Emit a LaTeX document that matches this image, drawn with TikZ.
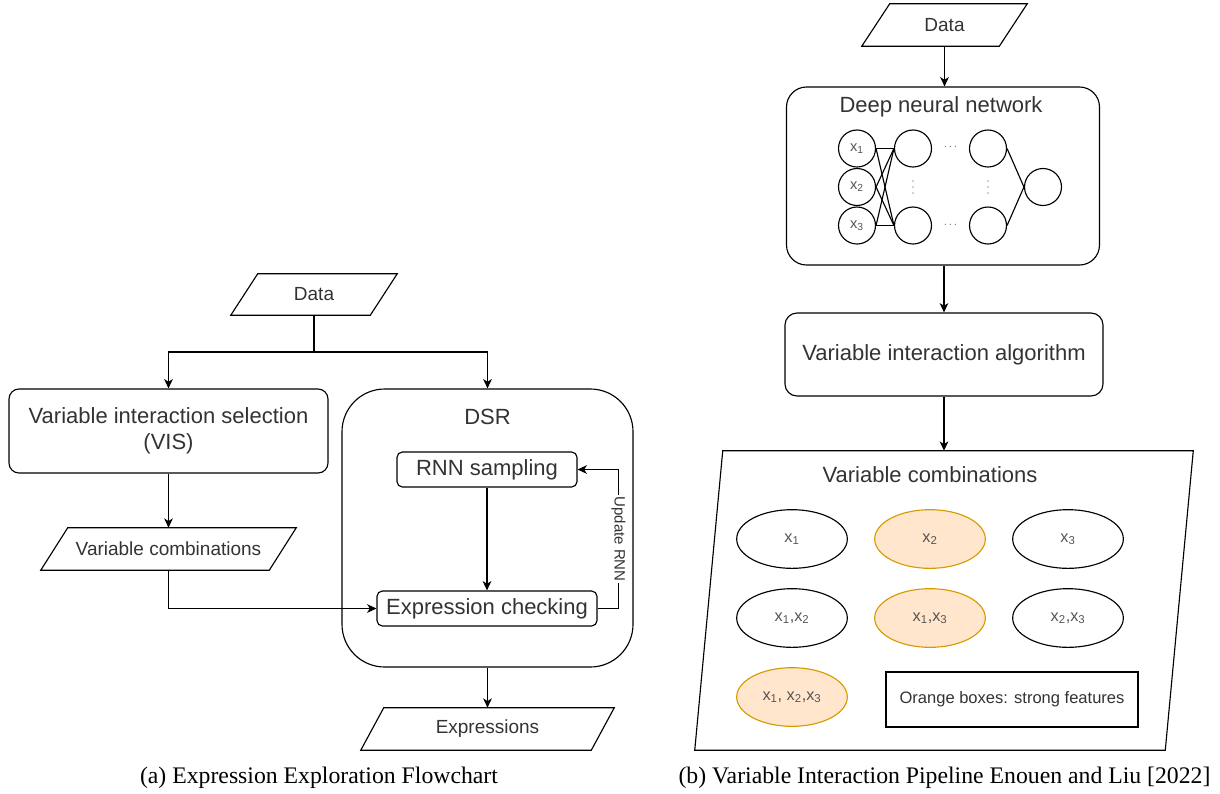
\documentclass[tikz,border=0pt]{standalone}
\usepackage{fontspec}
\setmainfont{Liberation Sans}
\newfontfamily\capfont{Liberation Serif}
\usetikzlibrary{arrows.meta,calc,shapes.geometric}
\definecolor{orfill}{HTML}{FFE6CC}
\definecolor{ordraw}{HTML}{D79B00}
\definecolor{txt}{HTML}{333333}
\definecolor{ltxt}{HTML}{555555}
\newcommand\parashape[2]{\draw[ln] ($(#1.north west)+(#2,0)$) -- (#1.north east) -- ($(#1.south east)+(-#2,0)$) -- (#1.south west) -- cycle;}
\tikzset{
  ln/.style={line width=0.85pt, draw=black},
  arr/.style={line width=0.85pt, draw=black, -{Stealth[length=7pt,width=6.5pt,inset=2pt]}},
  fbig/.style={font=\fontsize{16.5}{19.5}\selectfont},
  fmid/.style={font=\fontsize{14.25}{17}\selectfont},
  fsmall/.style={font=\fontsize{12.2}{14.5}\selectfont},
  box/.style={ln, rounded corners=#1, inner sep=0pt, text=txt, align=center},
  box/.default=7pt,
  parabox/.style={inner sep=0pt, text=txt, fmid},
  neuron/.style={ln, circle, minimum size=27.75pt, inner sep=0pt, text=ltxt, font=\fontsize{11}{12}\selectfont},
  comb/.style={ln, ellipse, minimum width=83pt, minimum height=44pt, inner sep=0pt, text=ltxt, fsmall},
  strong/.style={comb, draw=ordraw, fill=orfill},
  dots/.style={text=ltxt, inner sep=0pt, font=\fontsize{8}{9}\selectfont},
  vdot/.style={fill=ltxt},
  captext/.style={font=\capfont\fontsize{17.8}{21}\selectfont, text=black, inner sep=0pt, anchor=base},
}
\begin{document}
\begin{tikzpicture}[x=0.75pt,y=-0.75pt]
\useasboundingbox (0,0) rectangle (1220,793);

% ---------------- left panel ----------------
\node[parabox, minimum width=124.5pt, minimum height=30.75pt] (dataL) at (314,294.5) {Data};
\parashape{dataL}{27}
\node[box=7.5pt, fbig, minimum width=239.25pt, minimum height=63pt] (vis) at (168.5,431) {Variable interaction selection\\(VIS)};
\node[parabox, minimum width=191.25pt, minimum height=31.5pt] (varL) at (168.5,549) {Variable combinations};
\parashape{varL}{27}
\node[box=32pt, minimum width=218.25pt, minimum height=208.5pt] (dsr) at (487.5,528) {};
\node[text=txt, fbig, inner sep=0pt] (dsrt) at (487.5,417) {DSR};
\node[box=4pt, fbig, minimum width=135pt, minimum height=26.25pt] (rnn) at (487,469.5) {RNN sampling};
\node[box=4pt, fbig, minimum width=165pt, minimum height=26.25pt] (ec) at (487,608.5) {Expression checking};
\node[parabox, minimum width=189.75pt, minimum height=31.5pt] (expr) at (487.5,729) {Expressions};
\parashape{expr}{23}

\coordinate (split) at (314,352);
\draw[ln] (dataL.south) -- (split);
\draw[arr] (split) -| (vis.north);
\draw[arr] (split) -| (dsr.north);
\draw[arr] (vis) -- (varL);
\draw[arr] (varL.south) |- (ec.west);
\draw[arr] (rnn) -- (ec);
\draw[arr] (ec.east) -- ++(21,0) |- (rnn.east)
  node[pos=0.25, rotate=-90, fill=white, inner sep=1pt, text=txt, font=\fontsize{11.25}{13}\selectfont] (upd) {Update RNN};
\draw[arr] (dsr) -- (expr);

\node[captext] (capa) at (319,783) {(a) Expression Exploration Flowchart};

% ---------------- right panel ----------------
\node[parabox, minimum width=123.75pt, minimum height=31.5pt] (dataR) at (944.5,25) {Data};
\parashape{dataR}{28}
\node[box=15pt, minimum width=234.75pt, minimum height=133.5pt] (dnn) at (943,176) {};
\node[text=txt, fbig, inner sep=0pt] (dnnt) at (941,107) {Deep neural network};

\node[neuron] (i1) at (857,148.5) {x\textsubscript{1}};
\node[neuron] (i2) at (857,187) {x\textsubscript{2}};
\node[neuron] (i3) at (857,225.5) {x\textsubscript{3}};
\node[neuron] (h1) at (913,148.5) {};
\node[neuron] (h3) at (913,225.5) {};
\node[neuron] (g1) at (988,148.5) {};
\node[neuron] (g3) at (988,225.5) {};
\node[neuron] (out) at (1043,187) {};
\node[dots] (d1) at (950.5,147) {$\cdots$};
\node[dots] (d2) at (950.5,225) {$\cdots$};
\foreach \xx in {913,988}{
  \foreach \yy in {181,187,193}{
    \fill[vdot] (\xx,\yy) circle (0.55pt);
  }
}
\foreach \a in {i1,i2,i3}{
  \draw[ln] (\a.east) -- (h1.west);
  \draw[ln] (\a.east) -- (h3.west);
}
\draw[ln] (g1.east) -- (out.west);
\draw[ln] (g3.east) -- (out.west);

\node[box=9pt, fbig, minimum width=238.5pt, minimum height=62.25pt] (via) at (944,354.5) {Variable interaction algorithm};
\node[inner sep=0pt, minimum width=373.5pt, minimum height=224.25pt] (vc) at (944,600.5) {};
\parashape{vc}{28}
\node[text=txt, fbig, inner sep=0pt] (vct) at (930,475) {Variable combinations};

\node[comb]   (c1)   at (792,539) {x\textsubscript{1}};
\node[strong] (c2)   at (930,539) {x\textsubscript{2}};
\node[comb]   (c3)   at (1068,539) {x\textsubscript{3}};
\node[comb]   (c12)  at (792,618) {x\textsubscript{1},x\textsubscript{2}};
\node[strong] (c13)  at (930,618) {x\textsubscript{1},x\textsubscript{3}};
\node[comb]   (c23)  at (1068,618) {x\textsubscript{2},x\textsubscript{3}};
\node[strong] (c123) at (792,697) {x\textsubscript{1}, x\textsubscript{2},x\textsubscript{3}};
\node[ln, inner sep=0pt, text=txt, minimum width=189pt, minimum height=41.25pt, font=\fontsize{12.4}{14.5}\selectfont] (leg) at (1012,699.5) {Orange boxes: strong features};

\draw[arr] (dataR) -- (dnn.north -| dataR.south);
\draw[arr] (dnn.south -| via.north) -- (via);
\draw[arr] (via) -- (vc.north -| via.south);

\node[captext] (capb) at (944.5,783) {(b) Variable Interaction Pipeline Enouen and Liu [2022]};
\end{tikzpicture}
\end{document}
